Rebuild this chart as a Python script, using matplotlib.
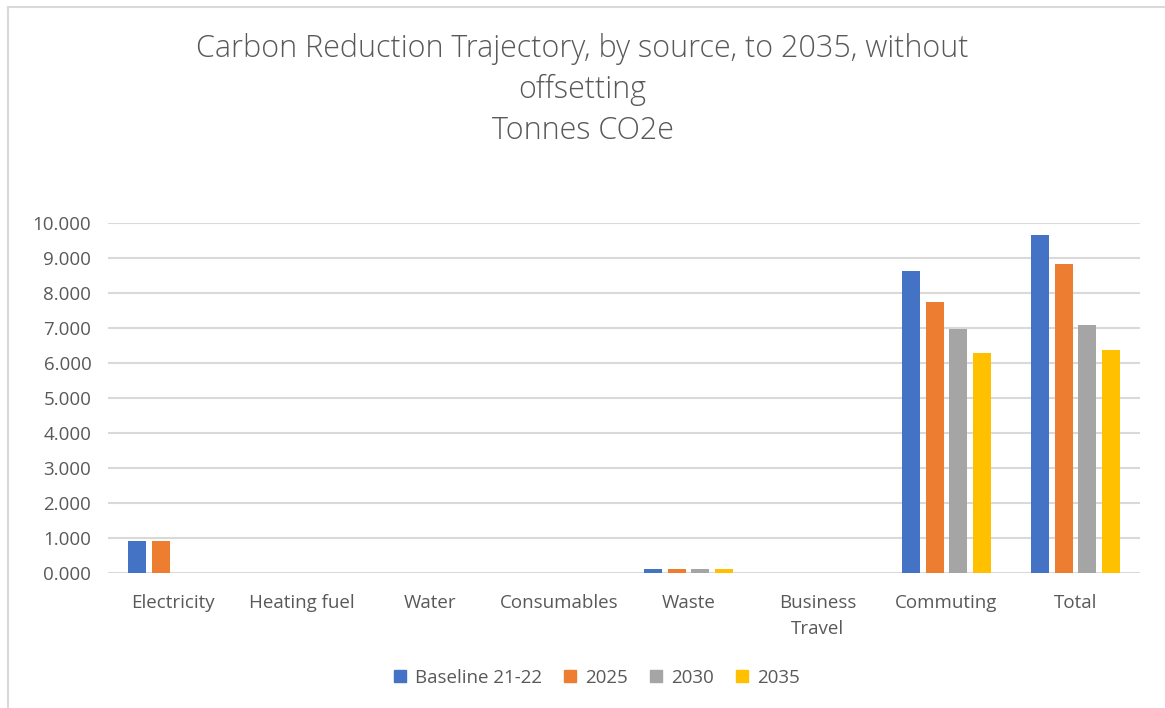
import numpy as np
from matplotlib import pyplot as plt
from matplotlib.lines import Line2D

categories = ["Electricity", "Heating fuel", "Water", "Consumables", "Waste",
              "Business\nTravel", "Commuting", "Total"]
series = ["Baseline 21-22", "2025", "2030", "2035"]
baseline = [0.92, 0, 0, 0, 0.11, 0, 8.63, 9.67]
y2025 = [0.92, 0, 0, 0, 0.11, 0, 7.75, 8.83]
y2030 = [0, 0, 0, 0, 0.11, 0, 6.98, 7.08]
y2035 = [0, 0, 0, 0, 0.11, 0, 6.28, 6.37]
colors = ["#4472C4", "#ED7D31", "#A5A5A5", "#FFC000"]

plt.rcParams['font.family'] = ['Open Sans', 'DejaVu Sans']
grey = "#595959"

fig = plt.figure(figsize=(11.65, 7.08), dpi=100)
ax = fig.add_axes([108/1165, 1 - 573/708, (1140-108)/1165, 350/708])

x = np.arange(len(categories))
pitch = 0.182
width = 0.14
for k, (vals, col, name) in enumerate(zip([baseline, y2025, y2030, y2035], colors, series)):
    ax.bar(x + (k - 1.5) * pitch, vals, width=width, color=col, label=name, zorder=3)

ax.set_xlim(-0.5, len(categories) - 0.5)
ax.set_ylim(0, 10)
ax.set_yticks(np.arange(0, 11, 1))
ax.set_yticklabels([f"{v:.3f}" for v in range(11)])
ax.yaxis.grid(True, color="#D9D9D9", linewidth=1.5, zorder=0)
ax.set_xticks(x)
ax.set_xticklabels(categories, linespacing=1.55)
ax.tick_params(axis="both", length=0, colors=grey, labelsize=13.5)
ax.tick_params(axis="x", pad=15)
ax.tick_params(axis="y", pad=12)
for s in ax.spines.values():
    s.set_visible(False)

fig.text(0.5, 1 - 90/708, "Carbon Reduction Trajectory, by source, to 2035, without\noffsetting\nTonnes CO2e",
         ha="center", va="center", fontsize=22, color=grey, linespacing=1.37, weight="light")

handles = [Line2D([], [], marker="s", linestyle="", color=c, markersize=8) for c in colors]
fig.legend(handles, series, loc="center", bbox_to_anchor=(595/1165, 1 - 678/708), ncol=4,
           frameon=False, fontsize=13.5, labelcolor=grey, handletextpad=0.3, columnspacing=1.0,
           handlelength=1.0)

# chart border (only top and left edges are visible in frame)
fig.add_artist(Line2D([8/1165, 8/1165], [0, 1 - 7/708], color="#D9D9D9", linewidth=1.5))
fig.add_artist(Line2D([8/1165, 1], [1 - 7/708, 1 - 7/708], color="#D9D9D9", linewidth=1.5))

fig.savefig("out.png", dpi=100)
